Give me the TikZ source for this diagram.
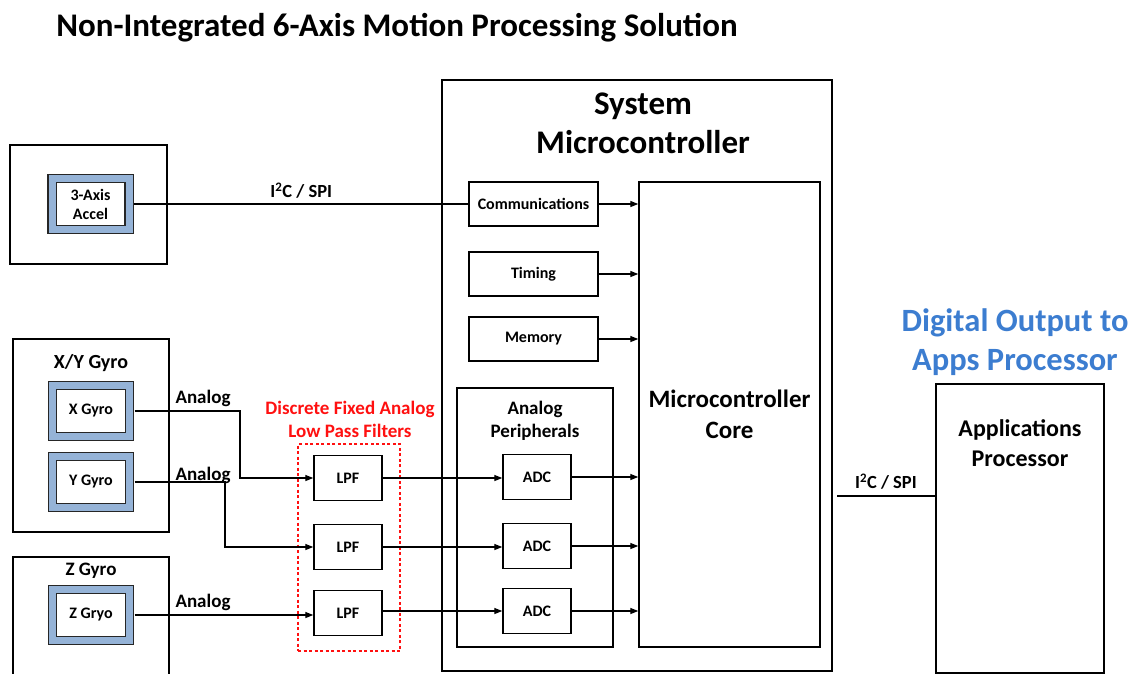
\documentclass[tikz,border=0pt]{standalone}
\usepackage{fontspec}
\setmainfont{Carlito}
\usetikzlibrary{arrows.meta,positioning}
\definecolor{sensorblue}{HTML}{95B3D7}
\definecolor{outblue}{HTML}{3C7DD0}
\definecolor{filtred}{HTML}{FF1010}
\tikzset{
  outerbox/.style={draw=black, line width=2.2pt, fill=none, inner sep=0pt},
  innerbox/.style={draw=black, line width=1.4pt, fill=white, inner sep=0pt, font=\bfseries\fontsize{16}{19}\selectfont, align=center},
  sensorbox/.style={draw=black!85, line width=1.1pt, double=sensorblue, double distance=7pt, fill=white, inner sep=0pt, minimum width=77pt, minimum height=51pt, font=\bfseries\fontsize{16}{19}\selectfont, align=center},
  lbl/.style={font=\bfseries\fontsize{19}{23}\selectfont, align=center, inner sep=0pt},
  biglbl/.style={font=\bfseries\fontsize{33}{39}\selectfont, align=center, inner sep=0pt},
  corelbl/.style={font=\bfseries\fontsize{25}{31}\selectfont, align=center, inner sep=0pt},
  wire/.style={draw=black, line width=1.3pt},
  arr/.style={wire, -{Triangle[length=8pt,width=6pt]}},
}
\begin{document}
\begin{tikzpicture}[x=1pt,y=-1pt]
\useasboundingbox (0,0) rectangle (1133,673);
% title
\node[font=\bfseries\fontsize{33}{39}\selectfont, inner sep=0pt] (title) at (397,28) {Non-Integrated 6-Axis Motion Processing Solution};

% accel
\node[outerbox, minimum width=157pt, minimum height=119pt] (accout) at (88.5,204.5) {};
\node[sensorbox] (accel) at (90.5,204) {3-Axis\\Accel};

% X/Y gyro
\node[outerbox, minimum width=156pt, minimum height=193pt] (xyout) at (91,435.5) {};
\node[lbl, font=\bfseries\fontsize{20}{23}\selectfont] (xylbl) at (91,363) {X/Y Gyro};
\node[sensorbox] (xg) at (91,411) {X Gyro};
\node[sensorbox] (yg) at (91,482) {Y Gyro};

% Z gyro
\node[outerbox, minimum width=156pt, minimum height=130pt] (zout) at (91,622) {};
\node[lbl] (zlbl) at (91,571) {Z Gyro};
\node[sensorbox] (zg) at (91,615) {Z Gryo};

% filters
\node[innerbox, minimum width=68pt, minimum height=45pt] (lpf1) at (348,478) {LPF};
\node[innerbox, minimum width=68pt, minimum height=45pt] (lpf2) at (348,547) {LPF};
\node[innerbox, minimum width=68pt, minimum height=45pt] (lpf3) at (348,613) {LPF};
\node[draw=filtred, line width=2pt, dash pattern=on 3pt off 2.5pt, minimum width=102pt, minimum height=207pt, inner sep=0pt] (filt) at (349,547.5) {};
\node[lbl, text=filtred] (filtlbl) at (350,419) {Discrete Fixed Analog\\Low Pass Filters};

% system microcontroller
\node[outerbox, minimum width=390pt, minimum height=591pt] (sys) at (637,375.5) {};
\node[biglbl] (syslbl) at (643,123.5) {System\\Microcontroller};
\node[innerbox, minimum width=129pt, minimum height=44pt] (comm) at (533.5,204) {Communications};
\node[innerbox, minimum width=129pt, minimum height=44pt] (timing) at (533.5,274) {Timing};
\node[innerbox, minimum width=129pt, minimum height=44pt] (mem) at (533.5,339) {Memory};
\node[innerbox, minimum width=181pt, minimum height=465pt, corelbl] (core) at (729.5,414.5) {Microcontroller\\Core};
\node[outerbox, minimum width=156pt, minimum height=259pt] (anap) at (535,517.5) {};
\node[lbl] (analbl) at (535,420.5) {Analog\\Peripherals};
\node[innerbox, minimum width=68pt, minimum height=45pt] (adc1) at (537,477) {ADC};
\node[innerbox, minimum width=68pt, minimum height=45pt] (adc2) at (537,546) {ADC};
\node[innerbox, minimum width=68pt, minimum height=45pt] (adc3) at (537,611) {ADC};

% applications processor
\node[outerbox, minimum width=168pt, minimum height=289pt, anchor=north] (apps) at (1020,383) {};
\node[corelbl, font=\bfseries\fontsize{24}{30}\selectfont] (appslbl) at (1020,443) {Applications\\Processor};
\node[biglbl, font=\bfseries\fontsize{32.5}{39}\selectfont, text=outblue] (digout) at (1015,342.5) {Digital Output to\\Apps Processor};

% connectors
\draw[wire] ([xshift=4.6pt]accel.east) -- node[lbl, above=5pt, font=\bfseries\fontsize{18.5}{22}\selectfont] (i2c1) {I\textsuperscript{2}C / SPI} (comm.west);
\draw[arr] (comm.east) -- (comm.east -| core.west);
\draw[arr] (timing.east) -- (timing.east -| core.west);
\draw[arr] (mem.east) -- (mem.east -| core.west);

\coordinate (xb) at (240,411);
\coordinate (yb) at (225,482);
\draw[arr] ([xshift=4.6pt]xg.east) -- (xb) |- (lpf1.west);
\draw[arr] ([xshift=4.6pt]yg.east) -- (yb) |- (lpf2.west);
\draw[arr] ([xshift=4.6pt]zg.east) -- (zg.east -| lpf3.west);
\node[lbl] (an1) at (203,398) {Analog};
\node[lbl] (an2) at (203,475) {Analog};
\node[lbl] (an3) at (203,602) {Analog};

\draw[arr] (lpf1.east) -- (lpf1.east -| adc1.west);
\draw[arr] (lpf2.east) -- (lpf2.east -| adc2.west);
\draw[arr] ([yshift=2pt]lpf3.east) -- ([yshift=2pt]lpf3.east -| adc3.west);
\draw[arr] (adc1.east) -- (adc1.east -| core.west);
\draw[arr] (adc2.east) -- (adc2.east -| core.west);
\draw[arr] (adc3.east) -- (adc3.east -| core.west);

\coordinate (appsin) at (837,496);
\draw[wire] (appsin) -- node[lbl, above=6pt, font=\bfseries\fontsize{18.5}{22}\selectfont] (i2c2) {I\textsuperscript{2}C / SPI} (appsin -| apps.west);
\end{tikzpicture}
\end{document}
